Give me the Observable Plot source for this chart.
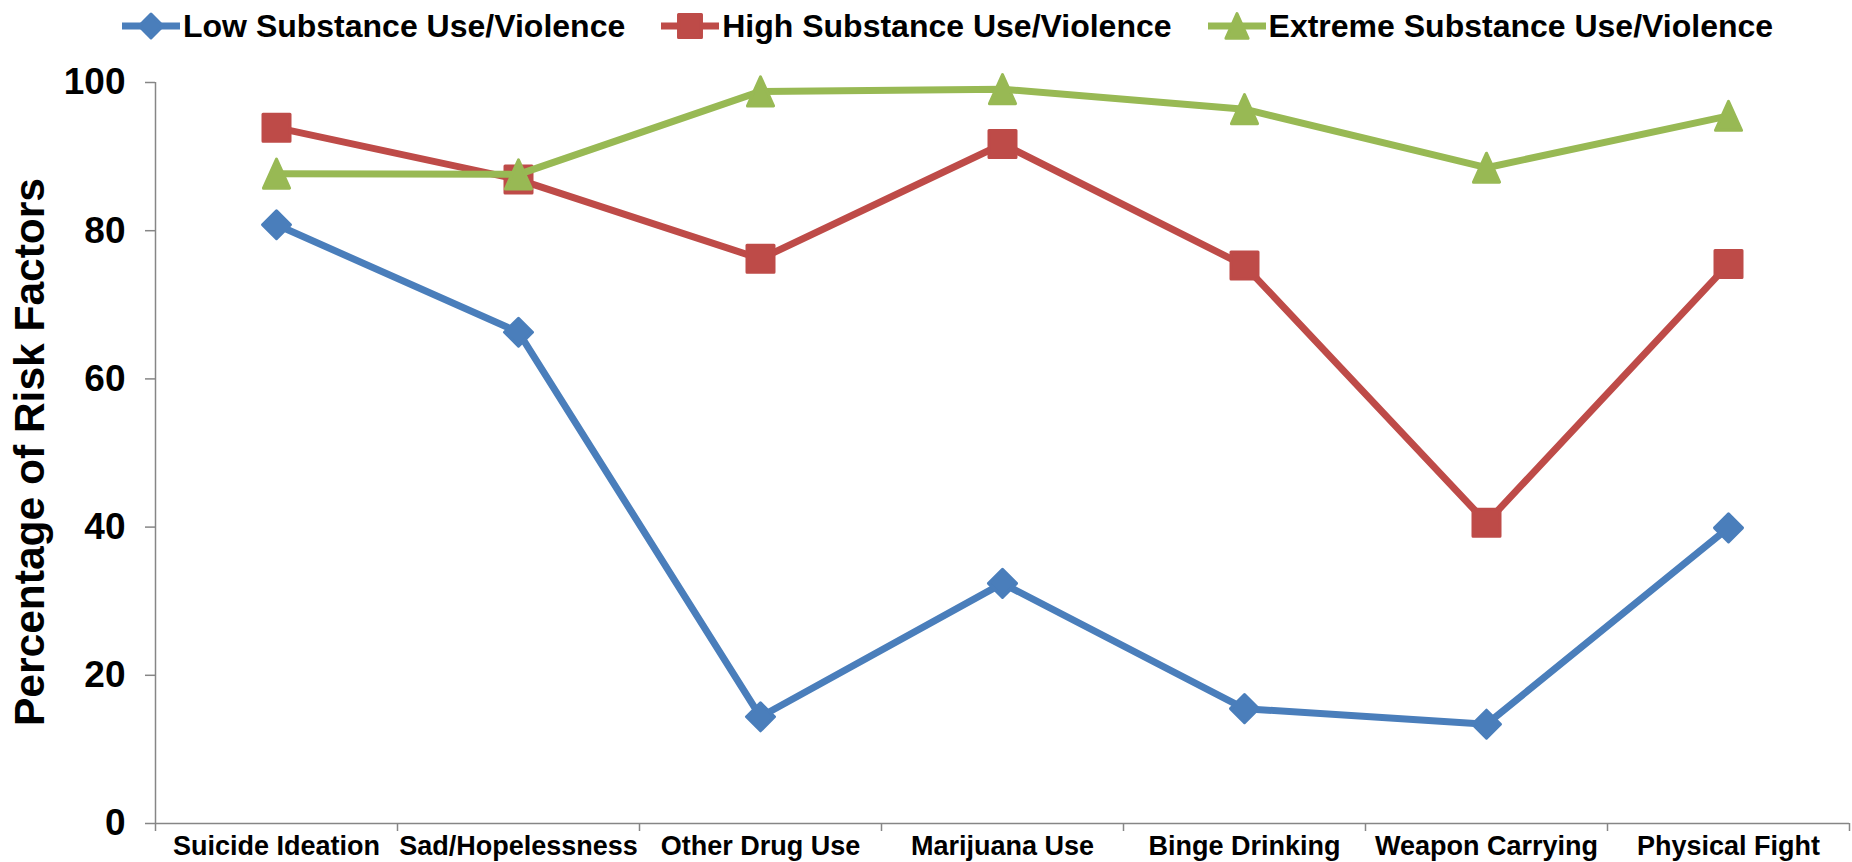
<!DOCTYPE html>
<html>
<head>
<meta charset="utf-8">
<script src="https://cdn.jsdelivr.net/npm/d3@7"></script>
<script src="https://cdn.jsdelivr.net/npm/@observablehq/plot@0.6"></script>
<style>
  html, body { margin: 0; padding: 0; background: #fff; }
  #wrap { position: relative; width: 1852px; height: 862px; font-family: "Liberation Sans", Arial, sans-serif; font-weight: bold; overflow: hidden; }
  #legend { position: absolute; left: 122px; top: 8px; display: flex; align-items: center; gap: 36px; z-index: 2; }
  .item { display: flex; align-items: center; }
  .item span { font-size: 32px; line-height: 36px; margin-left: 3px; color: #000; white-space: nowrap; }
  #ytitle { position: absolute; left: 30px; top: 452px; transform: translate(-50%, -50%) rotate(-90deg); font-size: 42.5px; line-height: 1; white-space: nowrap; color: #000; z-index: 2; }
</style>
</head>
<body>
<div id="wrap"><div id="legend"></div><div id="ytitle"></div></div>
<script>
const categories = ["Suicide Ideation", "Sad/Hopelessness", "Other Drug Use", "Marijuana Use", "Binge Drinking", "Weapon Carrying", "Physical Fight"];
const seriesNames = ["Low Substance Use/Violence", "High Substance Use/Violence", "Extreme Substance Use/Violence"];
const lowValues = [80.8, 66.3, 14.4, 32.4, 15.5, 13.4, 39.9];
const highValues = [93.9, 86.9, 76.2, 91.7, 75.3, 40.6, 75.5];
const extremeValues = [87.7, 87.6, 98.8, 99.1, 96.4, 88.5, 95.5];
const yTicks = [0, 20, 40, 60, 80, 100];
const yTitle = "Percentage of Risk Factors";
const colors = ["#4A7EBB", "#BE4B48", "#98B954"];

// custom marker shapes
const diamondSym = {draw(ctx, size) { const r = Math.sqrt(size / Math.PI); ctx.moveTo(0, -r); ctx.lineTo(r, 0); ctx.lineTo(0, r); ctx.lineTo(-r, 0); ctx.closePath(); }};
const squareSym = {draw(ctx, size) { const r = Math.sqrt(size / Math.PI); ctx.rect(-r, -r, 2 * r, 2 * r); }};
const triangleSym = {draw(ctx, size) { const r = Math.sqrt(size / Math.PI); const w = r * 0.9; ctx.moveTo(0, -r); ctx.lineTo(w, r); ctx.lineTo(-w, r); ctx.closePath(); }};
const symbols = [diamondSym, squareSym, triangleSym];
const radii = [14, 13.5, 14.5];

const allValues = [lowValues, highValues, extremeValues];
const series = seriesNames.map((name, s) => allValues[s].map((v, i) => ({series: name, i, value: v})));

const gray = "#868686";
const boundaries = d3.range(categories.length + 1).map(i => i - 0.5);
const centers = d3.range(categories.length);

const marks = [
  Plot.ruleY([0], {stroke: gray, strokeWidth: 1.5}),
  Plot.ruleX([-0.5], {stroke: gray, strokeWidth: 1.5}),
  Plot.axisY({ticks: yTicks, tickSize: 10, tickPadding: 20, fontSize: 37, stroke: gray, strokeWidth: 1.5, fill: "#000", label: null}),
  Plot.axisX({ticks: boundaries, tickSize: 8, tickFormat: () => "", stroke: gray, strokeWidth: 1.5, label: null}),
  Plot.axisX({ticks: centers, tickSize: 0, tickPadding: 12, tickFormat: i => categories[i], fontSize: 27, fill: "#000", label: null})
];
series.forEach((data, s) => {
  marks.push(Plot.line(data, {x: "i", y: "value", stroke: colors[s], strokeWidth: 7, strokeLinejoin: "round"}));
  marks.push(Plot.dot(data, {x: "i", y: "value", symbol: symbols[s], r: radii[s], fill: colors[s], stroke: colors[s], strokeWidth: 3, strokeLinejoin: "round"}));
});

const chart = Plot.plot({
  width: 1852,
  height: 862,
  marginTop: 82,
  marginBottom: 39,
  marginLeft: 155,
  marginRight: 3,
  style: {fontFamily: '"Liberation Sans", Arial, sans-serif', fontWeight: "bold", background: "#fff", color: "#000"},
  x: {domain: [-0.5, categories.length - 0.5]},
  y: {domain: [0, 100]},
  marks
});
document.getElementById("wrap").appendChild(chart);

document.getElementById("ytitle").textContent = yTitle;

// legend
const legend = document.getElementById("legend");
seriesNames.forEach((name, s) => {
  const item = document.createElement("div");
  item.className = "item";
  const svg = d3.create("svg").attr("width", 58).attr("height", 36);
  svg.append("line").attr("x1", 0).attr("x2", 58).attr("y1", 18).attr("y2", 18).attr("stroke", colors[s]).attr("stroke-width", 7).attr("stroke-linecap", "round");
  const p = d3.path();
  const r = radii[s] * 0.85;
  symbols[s].draw(p, Math.PI * r * r);
  svg.append("path").attr("d", p.toString()).attr("transform", "translate(29,18)").attr("fill", colors[s]).attr("stroke", colors[s]).attr("stroke-width", 3).attr("stroke-linejoin", "round");
  item.appendChild(svg.node());
  const span = document.createElement("span");
  span.textContent = name;
  item.appendChild(span);
  legend.appendChild(item);
});
</script>
</body>
</html>
